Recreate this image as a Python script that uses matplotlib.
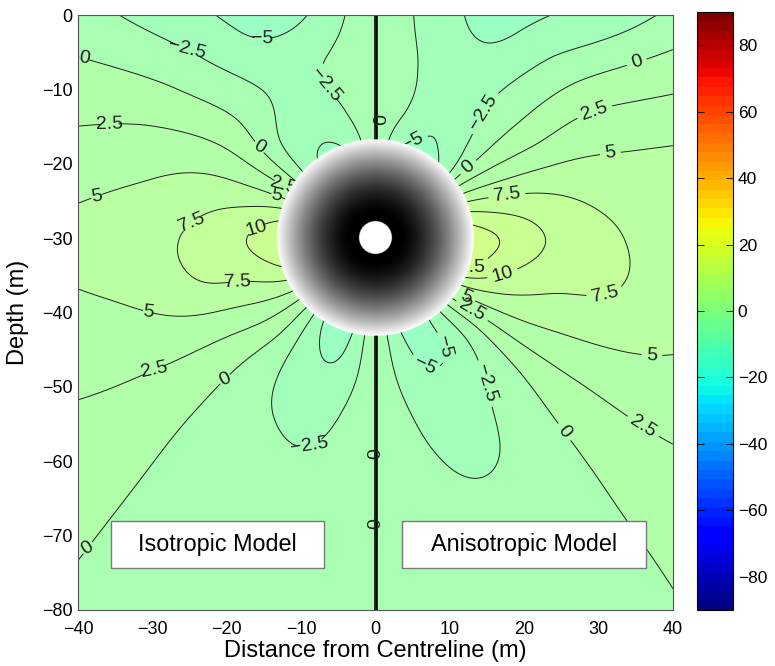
import numpy as np
import matplotlib
matplotlib.use("Agg")
import matplotlib.pyplot as plt
from matplotlib.colors import Normalize
from matplotlib.cm import ScalarMappable
from matplotlib.patches import Rectangle

plt.rcParams["font.family"] = ["Liberation Sans", "DejaVu Sans"]

# tunnel geometry (m)
TUNNEL_Y = -30.0
TUNNEL_RADIUS = 13.2
BORE_RADIUS = 2.2

# field samples on a polar grid about the tunnel axis
# rows: angle above horizontal (deg, -90 = straight down, 90 = straight up)
# columns: radial distance from tunnel axis (m)
ANGLES = [-90, -75, -60, -45, -30, -15, 0, 15, 30, 45, 60, 75, 90]
RADII = [13.0, 17.8, 24.4, 33.4, 45.8, 62.8]

iso_values = [
    [0.0, 0.0, 0.0, 0.0, 0.0, 0.0],
    [-5.3, -4.6, -3.0, -2.0, -1.5, -1.2],
    [-5.5, -4.3, -3.0, -1.8, -1.4, -1.3],
    [0.0, 0.0, -0.4, -0.2, 0.1, 0.3],
    [6.0, 4.7, 3.4, 2.7, 2.3, 1.8],
    [10.5, 8.3, 7.3, 5.2, 4.0, 3.0],
    [12.2, 9.8, 7.9, 6.4, 5.1, 4.1],
    [8.5, 7.2, 6.2, 4.6, 3.1, 2.0],
    [2.2, 2.5, 2.7, 1.8, 0.4, -0.8],
    [-3.3, -2.5, -1.0, -2.2, -3.5, -3.5],
    [-5.6, -4.0, -3.3, -5.5, -6.5, -6.5],
    [-4.2, -2.7, -2.3, -5.2, -6.0, -6.0],
    [0.0, 0.0, 0.0, 0.0, 0.0, 0.0],
]

aniso_values = [
    [0.0, 0.0, 0.0, 0.0, 0.0, 0.0],
    [-5.0, -4.3, -3.0, -2.2, -1.5, -1.2],
    [-5.6, -5.2, -3.4, -2.5, -1.4, -1.0],
    [-1.0, -1.5, -0.8, 0.0, 0.4, 0.6],
    [7.0, 5.5, 4.6, 3.9, 3.5, 2.7],
    [13.3, 10.2, 8.0, 7.2, 5.4, 4.3],
    [14.0, 12.0, 9.5, 7.5, 6.0, 5.0],
    [10.3, 8.7, 7.3, 5.9, 5.2, 4.0],
    [3.6, 3.0, 2.6, 2.6, 1.0, -0.5],
    [-4.0, -2.3, -1.5, -2.2, -4.6, -4.6],
    [-5.6, -4.6, -3.8, -5.6, -6.8, -6.8],
    [-4.6, -2.7, -2.7, -4.0, -4.8, -4.8],
    [0.0, 0.0, 0.0, 0.0, 0.0, 0.0],
]

LINE_LEVELS = [-7.5, -5, -2.5, 0, 2.5, 5, 7.5, 10, 12.5]
FILL_LEVELS = [-10, -7.5, -5, -2.5, 0, 2.5, 5, 7.5, 10, 12.5, 15, 17.5]
CBAR_TICKS = [-80, -60, -40, -20, 0, 20, 40, 60, 80]

iso_label_pos = [(-15.2, -1.3), (-25.3, -4.3), (-39.1, -5.4), (-6.5, -9.0),
                 (-15.6, -17.7), (-35.8, -14.8), (-37.5, -24.6), (-24.6, -28.5),
                 (-16.0, -28.9), (-18.5, -36.0), (-30.6, -40.5), (-29.7, -48.0),
                 (-20.3, -48.7), (-38.7, -71.6), (-8.9, -57.1),
                 (-12.4, -23.2), (-13.3, -24.3),
                 (0.0, -14.1), (0.0, -58.9), (0.0, -68.4)]
aniso_label_pos = [(14.0, -12.8), (34.8, -5.4), (29.4, -12.8), (31.5, -17.9),
                   (4.6, -16.1), (12.4, -20.4), (17.6, -23.8), (12.1, -34.2),
                   (17.3, -35.6), (30.8, -37.4), (37.2, -45.0), (9.5, -44.6),
                   (6.3, -47.7), (14.9, -49.5), (36.2, -55.0), (25.5, -56.0),
                   (12.0, -38.2), (12.9, -39.9)]


def cr_weights(t):
    t2, t3 = t * t, t * t * t
    return [0.5 * (-t + 2 * t2 - t3), 0.5 * (2 - 5 * t2 + 3 * t3),
            0.5 * (t + 4 * t2 - 3 * t3), 0.5 * (-t2 + t3)]


def polar_field(table, x, y):
    tab = np.asarray(table, dtype=float)
    # odd about the centreline in angle, linear run-out in radius
    tab = np.vstack([-tab[2], -tab[1], tab, -tab[-2], -tab[-3]])
    tab = np.column_stack([2 * tab[:, 0] - tab[:, 1], tab,
                           2 * tab[:, -1] - tab[:, -2]])
    dy = y - TUNNEL_Y
    r = np.maximum(np.hypot(x, dy), RADII[0])
    phi = np.degrees(np.arctan2(dy, np.abs(x)))
    u = (phi - ANGLES[0]) / 15.0
    i = np.clip(np.floor(u), 0, len(ANGLES) - 2).astype(int)
    tu = u - i
    v = np.interp(np.log(r), np.log(RADII), np.arange(len(RADII)))
    k = np.clip(np.floor(v), 0, len(RADII) - 2).astype(int)
    tv = np.clip(v - k, 0, 1)
    wu, wv = cr_weights(tu), cr_weights(tv)
    out = np.zeros_like(x)
    for a in range(4):
        for b in range(4):
            out += wu[a] * wv[b] * tab[i + a + 1, k + b]
    return out


def fmt_level(v):
    return f"{v:g}".replace("-", "\u2212")


cmap = plt.get_cmap("jet", 64)
norm = Normalize(-90, 90)
# filled bands are drawn semi-transparent over white
fill_colors = [0.62 * np.array(cmap(norm(lv))[:3]) + 0.38 for lv in FILL_LEVELS[:-1]]

fig = plt.figure(figsize=(7.75, 6.66), dpi=100)
ax = fig.add_axes([78 / 775, 56 / 666, 595 / 775, 595 / 666])
cax = fig.add_axes([697 / 775, 56 / 666, 36 / 775, 598 / 666])

y = np.linspace(-80, 0, 641)
for table, xs, labels in [(iso_values, np.linspace(-40, 0, 321), iso_label_pos),
                          (aniso_values, np.linspace(0, 40, 321), aniso_label_pos)]:
    X, Y = np.meshgrid(xs, y)
    Z = polar_field(table, X, Y)
    Z[X == 0] = 1e-3
    ax.contourf(X, Y, Z, levels=FILL_LEVELS, colors=fill_colors)
    cs = ax.contour(X, Y, Z, levels=LINE_LEVELS, colors="#202020",
                    linewidths=0.7, linestyles="solid")
    ax.clabel(cs, manual=labels, inline=True, fontsize=14, fmt=fmt_level)

# centreline
ax.plot([0, 0], [-80, 0], color="black", lw=2.6, zorder=1.5)

# tunnel: grey radial shading with open bore
n = 600
g = np.linspace(-TUNNEL_RADIUS, TUNNEL_RADIUS, n)
GX, GY = np.meshgrid(g, g)
rr = np.hypot(GX, GY)
shade = np.clip((rr - 3.2) / (TUNNEL_RADIUS - 3.2), 0, 1) ** 1.6
shade[rr <= BORE_RADIUS] = 1.0
rgba = np.zeros((n, n, 4))
rgba[..., :3] = shade[..., None]
rgba[..., 3] = (rr <= TUNNEL_RADIUS).astype(float)
ax.imshow(rgba, extent=(-TUNNEL_RADIUS, TUNNEL_RADIUS,
                        TUNNEL_Y - TUNNEL_RADIUS, TUNNEL_Y + TUNNEL_RADIUS),
          origin="lower", interpolation="bilinear", zorder=6, aspect="auto")

# model captions
for (x0, x1), text in [((-35.6, -6.9), "Isotropic Model"), ((3.6, 36.4), "Anisotropic Model")]:
    ax.add_patch(Rectangle((x0, -74.3), x1 - x0, 6.2, facecolor="white",
                           edgecolor="#7a7a7a", lw=1.0, zorder=7))
    ax.text((x0 + x1) / 2, -71.2, text, ha="center", va="center",
            fontsize=16.8, zorder=8)

ax.set_xlim(-40, 40)
ax.set_ylim(-80, 0)
ax.set_xticks(range(-40, 41, 10))
ax.set_yticks(range(-80, 1, 10))
ax.tick_params(labelsize=13, length=0)
ax.tick_params(axis="x", pad=8)
ax.tick_params(axis="y", pad=4)
for sp in ax.spines.values():
    sp.set_color("#555555")
    sp.set_linewidth(0.8)
ax.set_xlabel("Distance from Centreline (m)", fontsize=17, labelpad=1)
ax.set_ylabel("Depth (m)", fontsize=17, labelpad=9)

cb = fig.colorbar(ScalarMappable(norm=norm, cmap=cmap), cax=cax, ticks=CBAR_TICKS)
cb.outline.set_linewidth(0.8)
cax.tick_params(direction="in", left=True, right=True, length=5,
                labelsize=12.5, width=0.6)

fig.savefig("out.png", dpi=100)
